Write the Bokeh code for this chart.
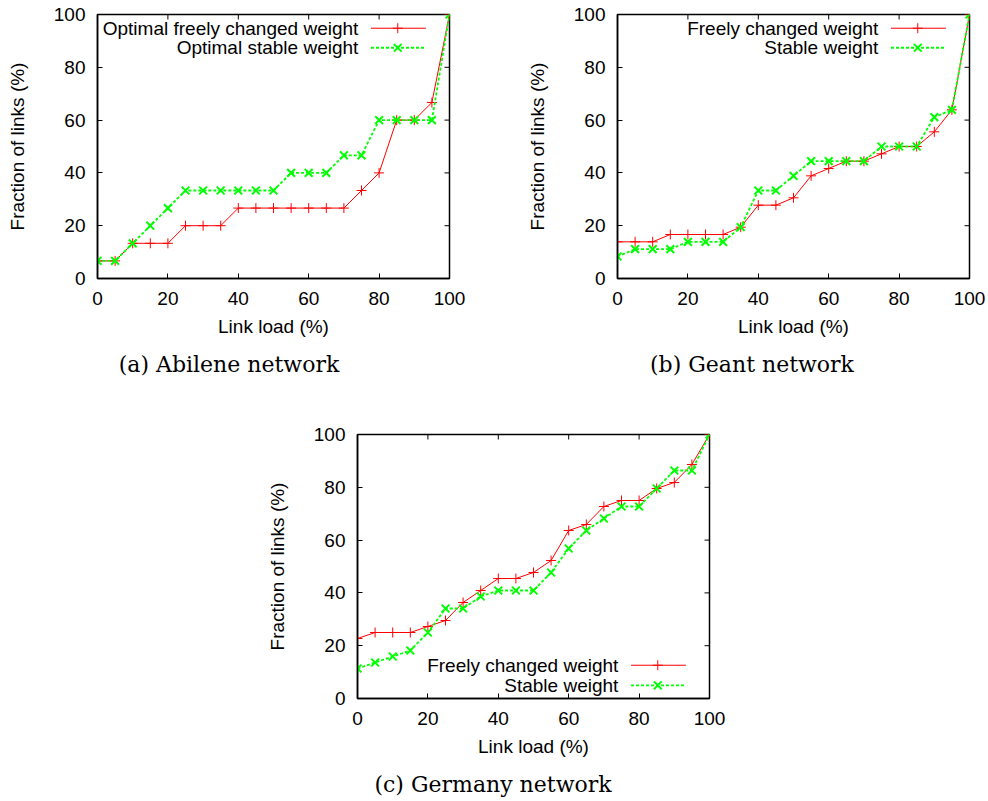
import math
from bokeh.plotting import figure
from bokeh.models import Range1d, FixedTicker, Label, Spacer, Div
from bokeh.layouts import column, row
from bokeh.embed import file_html
from bokeh.resources import INLINE

# ---------------- data ----------------
link_load = [0, 5, 10, 15, 20, 25, 30, 35, 40, 45, 50, 55, 60, 65, 70, 75, 80, 85, 90, 95, 100]

abilene_freely = [6.67, 6.67, 13.33, 13.33, 13.33, 20.0, 20.0, 20.0, 26.67, 26.67, 26.67,
                  26.67, 26.67, 26.67, 26.67, 33.33, 40.0, 60.0, 60.0, 66.67, 100.0]
abilene_stable = [6.67, 6.67, 13.33, 20.0, 26.67, 33.33, 33.33, 33.33, 33.33, 33.33, 33.33,
                  40.0, 40.0, 40.0, 46.67, 46.67, 60.0, 60.0, 60.0, 60.0, 100.0]

geant_freely = [13.89, 13.89, 13.89, 16.67, 16.67, 16.67, 16.67, 19.44, 27.78, 27.78, 30.56,
                38.89, 41.67, 44.44, 44.44, 47.22, 50.0, 50.0, 55.56, 63.89, 100.0]
geant_stable = [8.33, 11.11, 11.11, 11.11, 13.89, 13.89, 13.89, 19.44, 33.33, 33.33, 38.89,
                44.44, 44.44, 44.44, 44.44, 50.0, 50.0, 50.0, 61.11, 63.89, 100.0]

germany_freely = [22.73, 25.0, 25.0, 25.0, 27.27, 29.55, 36.36, 40.91, 45.45, 45.45, 47.73,
                  52.27, 63.64, 65.91, 72.73, 75.0, 75.0, 79.55, 81.82, 88.64, 100.0]
germany_stable = [11.36, 13.64, 15.91, 18.18, 25.0, 34.09, 34.09, 38.64, 40.91, 40.91, 40.91,
                  47.73, 56.82, 63.64, 68.18, 72.73, 72.73, 79.55, 86.36, 86.36, 100.0]

ticks = [0, 20, 40, 60, 80, 100]
x_label = "Link load (%)"
y_label = "Fraction of links (%)"
captions = ["(a) Abilene network", "(b) Geant network", "(c) Germany network"]

# legend layout (gnuplot style: text right-aligned, sample to its right)
LEG_TEXT_X = 74.1
LEG_SAMPLE_X = [77.7, 93.3]
LEG_POINT_X = 85.3
LEG_ROWS_TOP = [94.8, 87.4]
LEG_ROWS_BOTTOM = [12.6, 5.0]

SANS = "Liberation Sans"
SERIF = "DejaVu Serif"
FS = "19px"
RED = "#ff0000"
GREEN = "#00ff00"


def make(freely, stable, lab_free, lab_stable, width, height, bl, br, bt, bb, leg_rows):
    p = figure(width=width, height=height, x_range=Range1d(0, 100), y_range=Range1d(0, 100),
               output_backend="svg", toolbar_location=None,
               min_border_left=bl, min_border_right=br, min_border_top=bt, min_border_bottom=bb)
    p.grid.visible = False
    p.outline_line_color = "black"
    p.outline_line_width = 1.5
    p.background_fill_color = "white"
    p.border_fill_color = "white"

    tk = FixedTicker(ticks=ticks, minor_ticks=[])
    for ax in (p.xaxis[0], p.yaxis[0]):
        ax.ticker = tk
        ax.major_tick_in = 5
        ax.major_tick_out = 0
        ax.minor_tick_in = 0
        ax.minor_tick_out = 0
        ax.axis_line_width = 1.5
        ax.major_tick_line_width = 1
        ax.major_label_text_font = SANS
        ax.major_label_text_font_size = FS
        ax.major_label_text_color = "black"
        ax.axis_label_text_font = SANS
        ax.axis_label_text_font_size = FS
        ax.axis_label_text_font_style = "normal"
        ax.axis_label_text_color = "black"
    p.xaxis[0].axis_label = x_label
    p.yaxis[0].axis_label = y_label
    p.xaxis[0].major_label_standoff = 13
    p.xaxis[0].axis_label_standoff = 8
    p.yaxis[0].major_label_standoff = 12
    p.yaxis[0].axis_label_standoff = 23

    # mirrored inward ticks on top and right edges (half of each dash is clipped by the frame)
    p.scatter(ticks, [100] * len(ticks), marker="dash", size=10, angle=math.pi / 2,
              line_color="black", line_width=1)
    p.scatter([100] * len(ticks), ticks, marker="dash", size=10,
              line_color="black", line_width=1)

    p.line(link_load, freely, line_color=RED, line_width=1)
    p.scatter(link_load, freely, marker="cross", size=10, line_color=RED, line_width=1)
    p.line(link_load, stable, line_color=GREEN, line_width=1.8, line_dash="3 2")
    p.scatter(link_load, stable, marker="x", size=11, line_color=GREEN, line_width=2)

    # legend
    for lab, yrow, col, dash, mk, sz, lw in (
            (lab_free, leg_rows[0], RED, "solid", "cross", 10, 1),
            (lab_stable, leg_rows[1], GREEN, "3 2", "x", 11, 2)):
        p.add_layout(Label(x=LEG_TEXT_X, y=yrow, text=lab, text_align="right",
                           text_baseline="middle", text_font=SANS, text_font_size=FS,
                           text_color="black"))
        p.line(LEG_SAMPLE_X, [yrow, yrow], line_color=col, line_width=1 if col == RED else 1.8,
               line_dash=dash)
        p.scatter([LEG_POINT_X], [yrow], marker=mk, size=sz, line_color=col, line_width=lw)
    return p


def caption_div(text, width):
    return Div(text=text, width=width, height=24, margin=0,
               styles={"font-family": SERIF, "font-size": "22px", "line-height": "24px",
                       "text-align": "center", "color": "black", "white-space": "nowrap"})


pa = make(abilene_freely, abilene_stable, "Optimal freely changed weight", "Optimal stable weight",
          520, 353, 97, 71, 14, 75, LEG_ROWS_TOP)
pb = make(geant_freely, geant_stable, "Freely changed weight", "Stable weight",
          467, 353, 97, 18, 14, 75, LEG_ROWS_TOP)
pc = make(germany_freely, germany_stable, "Freely changed weight", "Stable weight",
          467, 396, 97, 18, 57, 75, LEG_ROWS_BOTTOM)

ca = caption_div(captions[0], 458)
cb = caption_div(captions[1], 464)
cc = caption_div(captions[2], 466)

layout = column(
    row(column(pa, ca), column(pb, cb)),
    row(Spacer(width=260, height=10), column(pc, cc)),
)

open("out.html", "w").write(file_html(layout, INLINE))
